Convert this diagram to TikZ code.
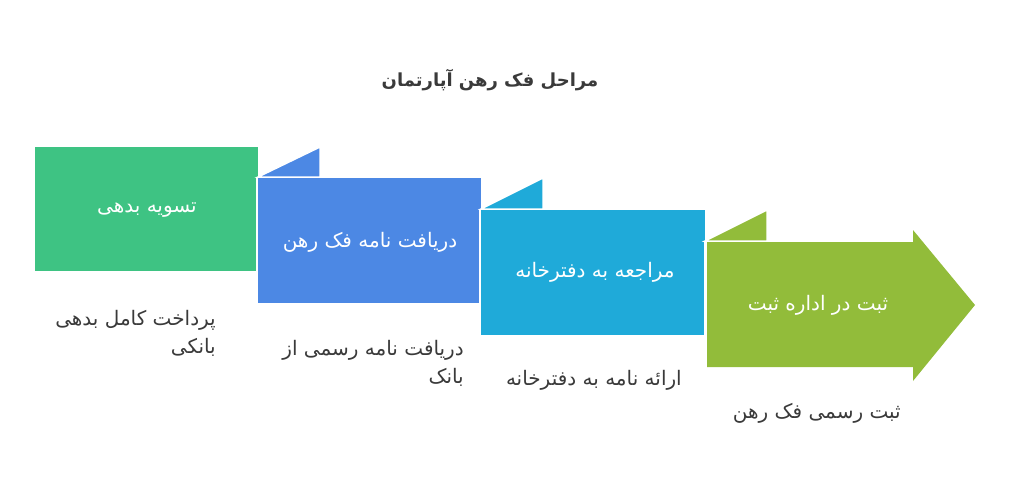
\documentclass[tikz,border=0pt]{standalone}
\usepackage{fontspec}
\TeXXeTstate=1
\newfontfamily\arabicfont[Script=Arabic]{DejaVu Sans}
\definecolor{cA}{HTML}{3EC383}
\definecolor{cB}{HTML}{4C88E4}
\definecolor{cC}{HTML}{1FAAD9}
\definecolor{cD}{HTML}{92BC3A}
\definecolor{txt}{HTML}{3A3A3A}
\tikzset{
  fold/.style={draw=white,line width=1.5pt,line join=miter},
  boxtext/.style={text=white,font=\arabicfont\fontsize{20}{24}\selectfont},
  desc/.style={text=txt,font=\arabicfont\fontsize{20}{28}\selectfont,align=right,anchor=north east,inner sep=0pt}
}
\begin{document}
\begin{tikzpicture}[x=1pt,y=-1pt]
\useasboundingbox (0,0) rectangle (1011,499);
\node[font=\arabicfont\bfseries\fontsize{18}{22}\selectfont,text=txt] (title) at (490,80) {\beginR مراحل فک رهن آپارتمان\endR};
\fill[cA] (35,147) rectangle (258,271);
\filldraw[cB,fold] (258,177) -- (320,147) -- (320,177) -- cycle;
\fill[cB] (258,178) rectangle (481,303);
\filldraw[cC,fold] (481,209) -- (543,178) -- (543,209) -- cycle;
\fill[cC] (481,210) rectangle (705,335);
\filldraw[cD,fold] (705,241) -- (767,210) -- (767,241) -- cycle;
\fill[cD] (707,242) -- (913,242) -- (913,230) -- (975,305) -- (913,381) -- (913,367) -- (707,367) -- cycle;
\draw[white,line width=1.5pt] (257,177) -- (257,272);
\draw[white,line width=1.5pt] (480,209) -- (480,304);
\draw[white,line width=1.5pt] (705,241) -- (705,336);
\node[boxtext] (t1) at (147,210) {\beginR تسویه بدهی\endR};
\node[boxtext] (t2) at (370,242) {\beginR دریافت نامه فک رهن\endR};
\node[boxtext] (t3) at (595,272) {\beginR مراجعه به دفترخانه\endR};
\node[boxtext] (t4) at (818,305) {\beginR ثبت در اداره ثبت\endR};
\node[desc] (d1) at (216,310) {\beginR پرداخت کامل بدهی\endR\\\beginR بانکی\endR};
\node[desc] (d2) at (464,340) {\beginR دریافت نامه رسمی از\endR\\\beginR بانک\endR};
\node[desc] (d3) at (682,370) {\beginR ارائه نامه به دفترخانه\endR};
\node[desc] (d4) at (901,403) {\beginR ثبت رسمی فک رهن\endR};
\end{tikzpicture}
\end{document}
